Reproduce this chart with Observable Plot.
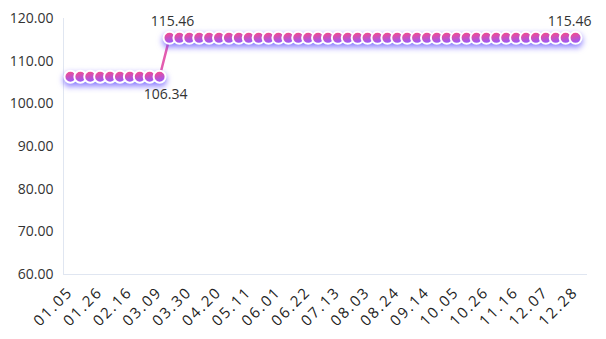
<!DOCTYPE html>
<html>
<head>
<meta charset="utf-8">
<script src="https://cdn.jsdelivr.net/npm/d3@7"></script>
<script src="https://cdn.jsdelivr.net/npm/@observablehq/plot@0.6"></script>
<style>
  html, body { margin: 0; padding: 0; background: #fff; }
  #chart svg { display: block; }
</style>
</head>
<body>
<div id="chart"></div>
<script>
const dates = [
  "01.05","01.12","01.19","01.26",
  "02.02","02.09","02.16","02.23",
  "03.02","03.09","03.16","03.23","03.30",
  "04.06","04.13","04.20","04.27",
  "05.04","05.11","05.18","05.25",
  "06.01","06.08","06.15","06.22","06.29",
  "07.06","07.13","07.20","07.27",
  "08.03","08.10","08.17","08.24","08.31",
  "09.07","09.14","09.21","09.28",
  "10.05","10.12","10.19","10.26",
  "11.02","11.09","11.16","11.23","11.30",
  "12.07","12.14","12.21","12.28"
];
const values = [
  106.34,106.34,106.34,106.34,106.34,106.34,106.34,106.34,106.34,106.34,
  115.46,115.46,115.46,115.46,115.46,115.46,115.46,115.46,115.46,115.46,
  115.46,115.46,115.46,115.46,115.46,115.46,115.46,115.46,115.46,115.46,
  115.46,115.46,115.46,115.46,115.46,115.46,115.46,115.46,115.46,115.46,
  115.46,115.46,115.46,115.46,115.46,115.46,115.46,115.46,115.46,115.46,
  115.46,115.46
];
const xTickLabels = ["01.05","01.26","02.16","03.09","03.30","04.20","05.11","06.01","06.22","07.13","08.03","08.24","09.14","10.05","10.26","11.16","12.07","12.28"];
const yTicks = [60, 70, 80, 90, 100, 110, 120];
const minLabelDates = ["03.09"];
const minLabelValues = [106.34];
const maxLabelDates = ["03.16", "12.28"];
const maxLabelValues = [115.46, 115.46];

const data = dates.map((d, i) => ({date: d, value: values[i]}));
const minLabels = minLabelDates.map((d, i) => ({date: d, value: minLabelValues[i]}));
const maxLabels = maxLabelDates.map((d, i) => ({date: d, value: maxLabelValues[i]}));

const font = "'Open Sans', 'Noto Sans', sans-serif";

const chart = Plot.plot({
  width: 606,
  height: 339,
  marginLeft: 63,
  marginRight: 19,
  marginTop: 18,
  marginBottom: 65,
  style: {fontFamily: font, fontSize: "14px", color: "#333", background: "#fff"},
  x: {type: "point", domain: dates, range: [65, 580], label: null},
  y: {domain: [60, 120], label: null},
  marks: [
    Plot.frame({anchor: "left", stroke: "#e0e6f1"}),
    Plot.ruleY([60], {stroke: "#e0e6f1", strokeWidth: 1}),
    Plot.axisY({ticks: yTicks, tickSize: 0, tickPadding: 10, tickFormat: d => d.toFixed(2), fontSize: 14, fill: "#333", label: null}),
    Plot.axisX({ticks: xTickLabels, tickSize: 0, tickPadding: 15, tickRotate: -45, fontSize: 15, fill: "#222", label: null}),
    Plot.lineY(data, {x: "date", y: "value", stroke: "#e45caf", strokeWidth: 2.5}),
    Plot.dot(data, {x: "date", y: "value", r: 6, fill: "#d95fd0", stroke: "#fff", strokeWidth: 2}),
    Plot.text(minLabels, {x: "date", y: "value", text: d => d.value.toFixed(2), dy: 18, dx: 6, fontSize: 14, fill: "#333"}),
    Plot.text(maxLabels.slice(0, 1), {x: "date", y: "value", text: d => d.value.toFixed(2), dy: -16, dx: 3, fontSize: 14, fill: "#333"}),
    Plot.text(maxLabels.slice(1), {x: "date", y: "value", text: d => d.value.toFixed(2), dy: -16, dx: -6, fontSize: 14, fill: "#333"})
  ]
});

const svg = d3.select(chart);
const defs = svg.insert("defs", ":first-child");
const g = defs.append("linearGradient").attr("id", "dotgrad").attr("x1", 0.2).attr("y1", 0).attr("x2", 0.5).attr("y2", 1);
g.append("stop").attr("offset", "0%").attr("stop-color", "#ff4a80");
g.append("stop").attr("offset", "100%").attr("stop-color", "#9558ff");
svg.selectAll('g[aria-label="dot"]').attr("fill", "url(#dotgrad)")
  .style("filter", "drop-shadow(0px 3px 3px rgba(95,75,255,0.75))");
svg.selectAll('g[aria-label="dot"] circle').attr("fill", "url(#dotgrad)");
svg.selectAll('g[aria-label="x-axis tick label"] text').style("letter-spacing", "2px");

document.getElementById("chart").appendChild(chart);
</script>
</body>
</html>
